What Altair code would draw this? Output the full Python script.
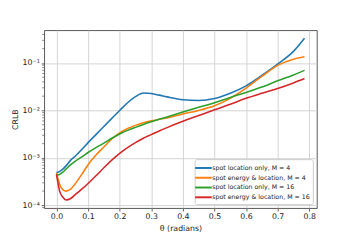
import altair as alt
import pandas as pd

theta = [0.0, 0.005, 0.01, 0.02, 0.03, 0.045, 0.06, 0.08, 0.1, 0.125, 0.15, 0.175,
         0.2, 0.225, 0.25, 0.275, 0.3, 0.325, 0.35, 0.4, 0.45, 0.5, 0.55, 0.6,
         0.65, 0.7, 0.75, 0.785]

loc_m4 = [5.0e-4, 5.0e-4, 5.2e-4, 5.8e-4, 6.8e-4, 9.0e-4, 1.1e-3, 1.5e-3, 2.1e-3, 3.1e-3,
          4.6e-3, 6.8e-3, 1.0e-2, 1.45e-2, 1.95e-2, 2.33e-2, 2.27e-2, 2.1e-2, 1.93e-2,
          1.68e-2, 1.62e-2, 1.78e-2, 2.3e-2, 3.3e-2, 5.5e-2, 9.5e-2, 0.175, 0.33]
enloc_m4 = [4.8e-4, 3.6e-4, 2.8e-4, 2.15e-4, 2.0e-4, 2.2e-4, 2.9e-4, 4.5e-4, 7.2e-4, 1.15e-3,
            1.7e-3, 2.5e-3, 3.35e-3, 4.15e-3, 4.85e-3, 5.5e-3, 6.05e-3, 6.5e-3, 6.95e-3,
            8.4e-3, 1.0e-2, 1.25e-2, 1.8e-2, 2.95e-2, 5.2e-2, 8.9e-2, 0.12, 0.135]
loc_m16 = [4.5e-4, 4.4e-4, 4.5e-4, 5.0e-4, 5.8e-4, 7.2e-4, 8.6e-4, 1.05e-3, 1.3e-3, 1.65e-3,
           2.05e-3, 2.6e-3, 3.2e-3, 3.8e-3, 4.4e-3, 5.05e-3, 5.75e-3, 6.5e-3, 7.3e-3,
           9.3e-3, 1.17e-2, 1.45e-2, 1.88e-2, 2.4e-2, 3.1e-2, 4.2e-2, 5.6e-2, 7.0e-2]
enloc_m16 = [4.5e-4, 2.9e-4, 2.0e-4, 1.5e-4, 1.3e-4, 1.4e-4, 1.7e-4, 2.2e-4, 2.9e-4, 4.2e-4,
             6.2e-4, 9.0e-4, 1.25e-3, 1.65e-3, 2.1e-3, 2.6e-3, 3.1e-3, 3.7e-3, 4.35e-3,
             5.9e-3, 7.8e-3, 1.03e-2, 1.35e-2, 1.8e-2, 2.3e-2, 2.9e-2, 3.8e-2, 4.7e-2]

series_names = ["spot location only, M = 4", "spot energy & location, M = 4",
                "spot location only, M = 16", "spot energy & location, M = 16"]
series_colors = ["#1f77b4", "#ff7f0e", "#2ca02c", "#d62728"]

x_ticks = [0.0, 0.1, 0.2, 0.3, 0.4, 0.5, 0.6, 0.7, 0.8]
y_major = [1e-4, 1e-3, 1e-2, 1e-1]
y_major_labels = ["10⁻⁴", "10⁻³", "10⁻²", "10⁻¹"]
y_minor = [k * 10.0 ** e for e in range(-5, 0) for k in range(2, 10)]

x_domain = [-0.039, 0.824]
y_domain = [8.8e-5, 0.49]
y_minor = [v for v in y_minor if y_domain[0] <= v <= y_domain[1]]

rows = []
for name, vals in zip(series_names, [loc_m4, enloc_m4, loc_m16, enloc_m16]):
    for t, v in zip(theta, vals):
        rows.append({"theta": t, "crlb": v, "series": name})
df = pd.DataFrame(rows)
minor_df = pd.DataFrame({"v": y_minor})

label_expr = " : ".join(
    [f"datum.value == {v} ? '{s}'" for v, s in zip(y_major, y_major_labels)]
) + " : ''"

yscale = alt.Scale(type="log", domain=y_domain, nice=False)
xscale = alt.Scale(domain=x_domain, nice=False, zero=False)

lines = alt.Chart(df).mark_line(strokeWidth=1.6, interpolate="monotone", clip=True).encode(
    x=alt.X("theta:Q", scale=xscale,
            axis=alt.Axis(values=x_ticks, format=".1f", title="θ (radians)")),
    y=alt.Y("crlb:Q", scale=yscale,
            axis=alt.Axis(values=y_major, labelExpr=label_expr, title="CRLB")),
    color=alt.Color("series:N", sort=series_names,
                    scale=alt.Scale(domain=series_names, range=series_colors),
                    legend=alt.Legend(title=None, orient="bottom-right")),
)

minor = alt.Chart(minor_df).mark_rule(color="#333333", strokeWidth=0.6).encode(
    y=alt.Y("v:Q", scale=yscale),
    x=alt.value(0),
    x2=alt.value(-2),
)

chart = alt.layer(minor, lines).properties(
    width=279, height=182,
    autosize=alt.AutoSizeParams(type="none"),
    padding={"left": 37, "top": 20, "right": 36, "bottom": 30},
).configure_view(
    stroke="#444444", strokeWidth=0.9
).configure_axis(
    labelFont="DejaVu Sans", titleFont="DejaVu Sans",
    labelFontSize=8, titleFontSize=8, titleFontWeight="normal",
    labelColor="#222222", titleColor="#222222",
    grid=True, gridColor="#d3d3d3", gridWidth=1,
    domain=False, tickColor="#333333", tickSize=3, tickWidth=0.8,
    labelPadding=2,
).configure_axisX(
    titlePadding=4,
).configure_axisY(
    titlePadding=3,
).configure_legend(
    labelFont="DejaVu Sans", labelFontSize=6.4, labelColor="#222222",
    symbolType="M-1.7,0H1.7", symbolStrokeWidth=2, symbolSize=100,
    fillColor="white", strokeColor="#cccccc", cornerRadius=2,
    padding=3, offset=4, rowPadding=0, labelLimit=250, labelOffset=3,
)

chart.save("out.html", embed_options={"renderer": "svg", "actions": False})
